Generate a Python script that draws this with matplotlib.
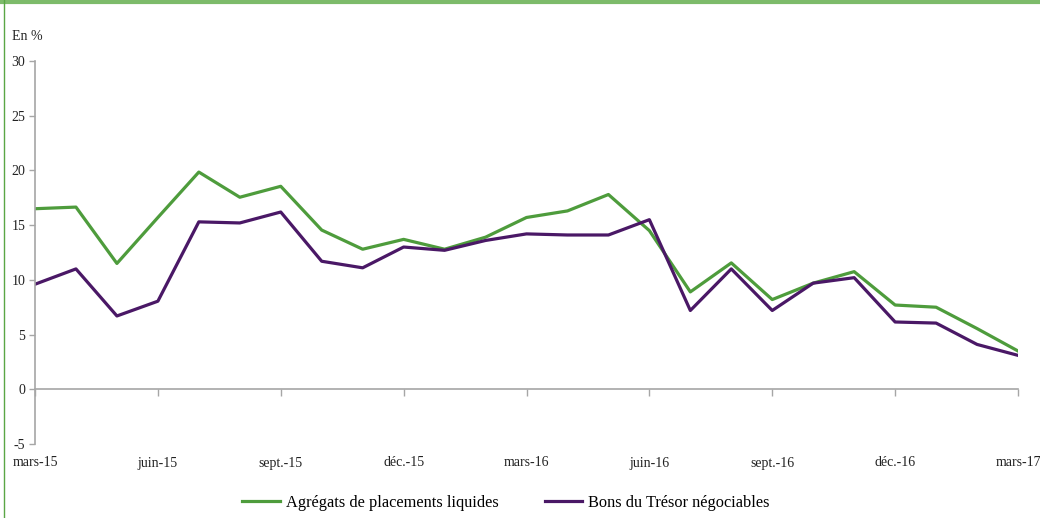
import numpy as np
import matplotlib
matplotlib.use("Agg")
import matplotlib.pyplot as plt
from matplotlib.lines import Line2D
import matplotlib.transforms as mtransforms

plt.rcParams['font.family'] = ['Liberation Serif', 'DejaVu Serif']

# monthly series, mars-15 .. mars-17
months = np.arange(25)
tick_pos = [0, 3, 6, 9, 12, 15, 18, 21, 24]
tick_labels = ['mars-15', 'juin-15', 'sept.-15', 'déc.-15', 'mars-16',
               'juin-16', 'sept.-16', 'déc.-16', 'mars-17']

agregats = [16.5, 16.65, 11.5, 15.7, 19.85, 17.55, 18.55, 14.55, 12.8, 13.7,
            12.8, 13.9, 15.7, 16.3, 17.8, 14.5, 8.9, 11.55, 8.2, 9.7,
            10.75, 7.7, 7.5, 5.55, 3.5]
bons = [9.6, 11.0, 6.7, 8.05, 15.3, 15.2, 16.2, 11.7, 11.1, 13.0,
        12.7, 13.6, 14.2, 14.1, 14.1, 15.5, 7.2, 11.0, 7.2, 9.7,
        10.2, 6.15, 6.05, 4.1, 3.1]

green = '#4e9c3c'
purple = '#4a1866'
axis_grey = '#a6a6a6'

fig = plt.figure(figsize=(10.4, 5.18), dpi=100)
ax = fig.add_axes([35/1040, 1-444/518, (1018-35)/1040, (444-61)/518])

ax.plot(months, agregats, color=green, lw=2.3, label='Agrégats de placements liquides')
ax.plot(months, bons, color=purple, lw=2.3, label='Bons du Trésor négociables')

ax.set_xlim(0, 24)
ax.set_ylim(-5, 30)
ax.set_yticks(range(-5, 31, 5))
ax.set_yticklabels([str(v) for v in range(-5, 31, 5)])

for s in ['top', 'right']:
    ax.spines[s].set_visible(False)
ax.spines['bottom'].set_position(('data', 0))
ax.spines['bottom'].set_color(axis_grey)
ax.spines['left'].set_color(axis_grey)
ax.spines['bottom'].set_linewidth(1.2)
ax.spines['left'].set_linewidth(1.2)

ax.set_xticks(tick_pos)
ax.set_xticklabels([])
ax.tick_params(axis='x', direction='out', length=5, color=axis_grey, width=1)
ax.tick_params(axis='y', direction='out', length=4, color=axis_grey, width=1,
               labelsize=10, labelcolor='#222222', pad=3)

trans = mtransforms.blended_transform_factory(ax.transData, fig.transFigure)
for p, lab in zip(tick_pos, tick_labels):
    ax.text(p, 1-463/518, lab, transform=trans, ha='center', va='center',
            fontsize=10, color='#222222')

fig.text(12/1040, 1-37/518, 'En %', ha='left', va='center', fontsize=10, color='#222222')

fig.legend(loc='center', bbox_to_anchor=(0.4865, 1-503/518), ncol=2, frameon=False,
           fontsize=11.8, handlelength=2.3, columnspacing=2.8, handletextpad=0.35)

# decorative frame lines
fig.add_artist(Line2D([0, 1], [1-1.5/518, 1-1.5/518], transform=fig.transFigure,
                      color='#7dbb6a', lw=3))
fig.add_artist(Line2D([4/1040, 4/1040], [0, 1], transform=fig.transFigure,
                      color='#5aa645', lw=1))

fig.savefig('out.png', dpi=100)
